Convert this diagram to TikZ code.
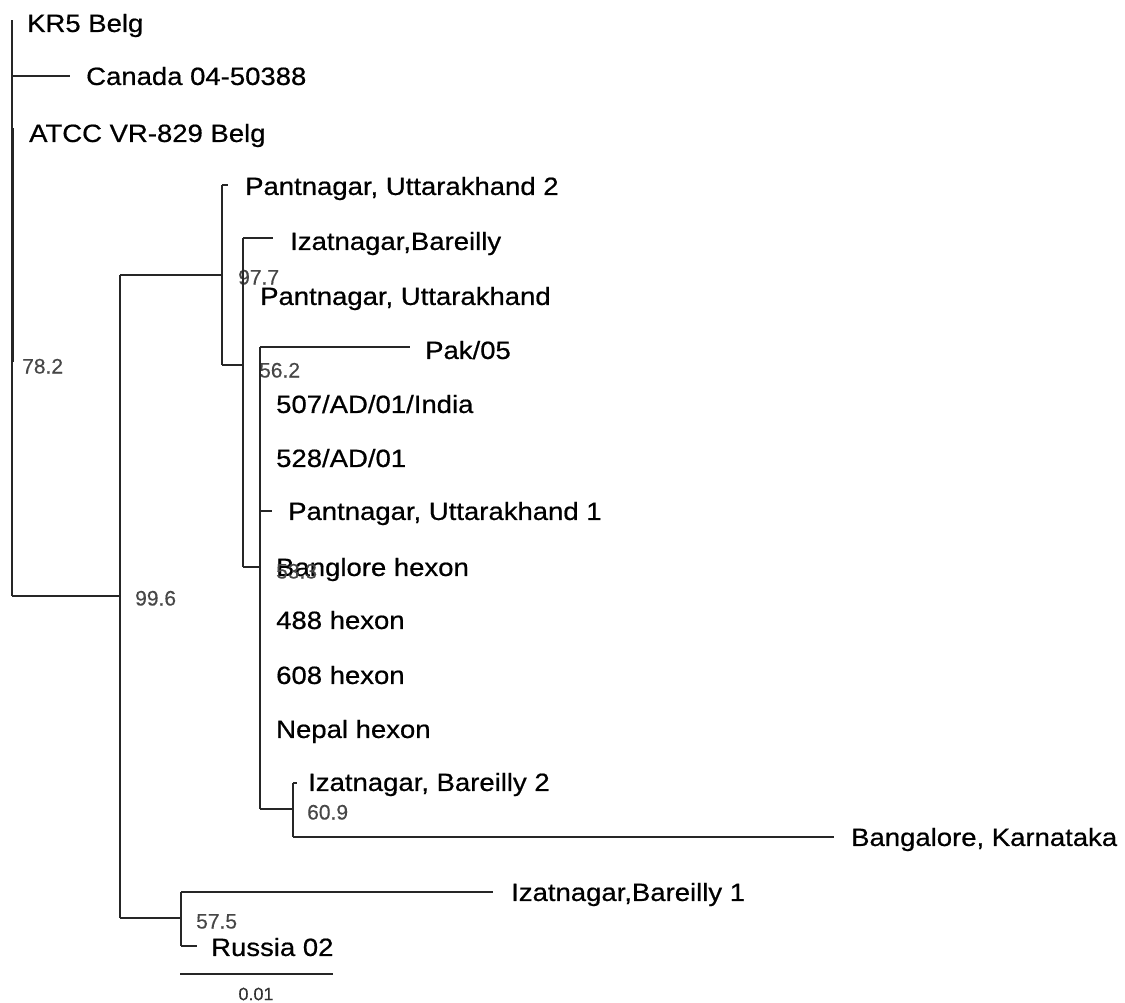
\documentclass[tikz,border=0pt]{standalone}
\usepackage{fontspec}
\setmainfont{Liberation Sans}
\newfontfamily\leaffont{Liberation Sans}[FakeStretch=1.1,FakeBold=0.6]
\newfontfamily\bootfont{Liberation Sans}[FakeBold=0.3]
\begin{document}
\begin{tikzpicture}[x=1pt,y=-1pt,
  leaf/.style={anchor=west,inner sep=0pt,text height=17.9pt,text depth=0pt,
    font=\leaffont\fontsize{25}{30}\selectfont,text=black},
  boot/.style={anchor=west,inner sep=0pt,text height=15pt,text depth=0pt,
    font=\bootfont\fontsize{21}{25}\selectfont,text=black!72},
  br/.style={line width=1.3pt,draw=black!85}]
\useasboundingbox (0,0) rectangle (1125,1002);

% internal nodes
\coordinate (rtop) at (12,20);
\coordinate (rbot) at (12,596);
\coordinate (n1) at (120,596);
\coordinate (n1t) at (120,275);
\coordinate (n1b) at (120,918);
\coordinate (n2) at (222,275);
\coordinate (n2t) at (222,185);
\coordinate (n2b) at (222,365);
\coordinate (n3) at (243,365);
\coordinate (n3t) at (243,238);
\coordinate (n3b) at (243,567);
\coordinate (n4) at (260,567);
\coordinate (n4t) at (260,347);
\coordinate (n4b) at (260,809);
\coordinate (n5) at (293,809);
\coordinate (n5t) at (293,783);
\coordinate (n5b) at (293,837);
\coordinate (n6) at (181,918);
\coordinate (n6t) at (181,892);
\coordinate (n6b) at (181,946);

% leaves
\node[leaf] (kr5) at (27,23) {KR5 Belg};
\node[leaf] (can) at (86,76) {Canada 04-50388};
\node[leaf] (atcc) at (29,133) {ATCC VR-829 Belg};
\node[leaf] (pu2) at (245,186) {Pantnagar, Uttarakhand 2};
\node[leaf] (izb) at (290,241) {Izatnagar,Bareilly};
\node[leaf] (pu) at (260,296) {Pantnagar, Uttarakhand};
\node[leaf] (pak) at (425,350) {Pak/05};
\node[leaf] (i507) at (276,404) {507/AD/01/India};
\node[leaf] (a528) at (276,458) {528/AD/01};
\node[leaf] (pu1) at (288,511) {Pantnagar, Uttarakhand 1};
\node[leaf] (bh) at (276,567) {Banglore hexon};
\node[leaf] (h488) at (276,620) {488 hexon};
\node[leaf] (h608) at (276,675) {608 hexon};
\node[leaf] (nep) at (276,729) {Nepal hexon};
\node[leaf] (izb2) at (308,782) {Izatnagar, Bareilly 2};
\node[leaf] (bk) at (851,837) {Bangalore, Karnataka};
\node[leaf] (izb1) at (511,892) {Izatnagar,Bareilly 1};
\node[leaf] (rus) at (211,947) {Russia 02};

% bootstrap values
\node[boot] (b782) at (22,366) {78.2};
\node[boot] (b996) at (135,598) {99.6};
\node[boot] (b977) at (238,277) {97.7};
\node[boot] (b562) at (259,370) {56.2};
\node[boot] (b533) at (276,571) {53.3};
\node[boot] (b609) at (307,812) {60.9};
\node[boot] (b575) at (196,921) {57.5};

% root
\draw[br] (rtop) -- (rbot);
\draw[line width=3pt,draw=black!85] (12,128) -- (12,362);
\draw[br] (rtop |- can) -- (70,76);
\draw[br] (rbot) -- (n1);
% n1
\draw[br] (n1t) -- (n1b);
\draw[br] (n1t) -- (n2);
\draw[br] (n1b) -- (n6);
% n2
\draw[br] (n2t) -- (n2b);
\draw[br] (n2t) -- (228,185);
\draw[br] (n2b) -- (n3);
% n3
\draw[br] (n3t) -- (n3b);
\draw[br] (n3t) -- (273,238);
\draw[br] (n3b) -- (n4);
% n4
\draw[br] (n4t) -- (n4b);
\draw[br] (n4t) -- (410,347);
\draw[br] (260,511) -- (272,511);
\draw[br] (n4b) -- (n5);
% n5
\draw[br] (n5t) -- (n5b);
\draw[br] (n5t) -- (297,783);
\draw[br] (n5b) -- (834,837);
% n6
\draw[br] (n6t) -- (n6b);
\draw[br] (n6t) -- (493,892);
\draw[br] (n6b) -- (197,946);

% scale bar
\coordinate (sL) at (180,974);
\coordinate (sR) at (333,974);
\draw[br] (sL) -- (sR);
\node[inner sep=0pt,font=\bootfont\fontsize{18}{22}\selectfont,text=black!80] (sc) at (256,994) {0.01};
\end{tikzpicture}
\end{document}
